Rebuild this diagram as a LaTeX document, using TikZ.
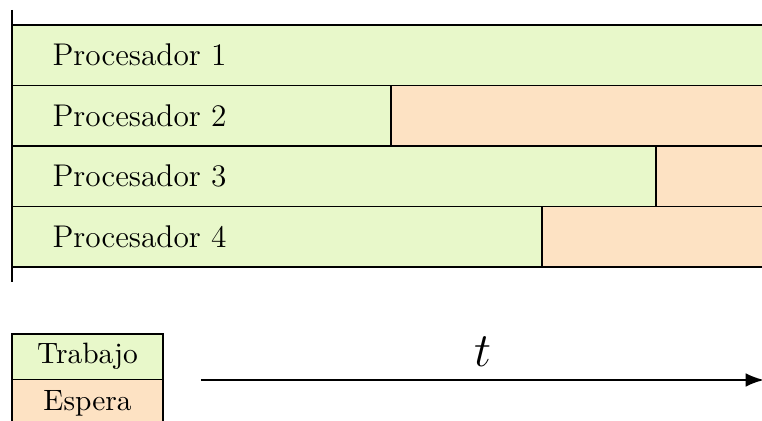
\documentclass[tikz,border=0pt]{standalone}
\usepackage{tikz}
\usetikzlibrary{arrows.meta,positioning}
\definecolor{trabajo}{RGB}{232,248,202}
\definecolor{espera}{RGB}{253,226,195}

\begin{document}
\begin{tikzpicture}[x=0.36pt, y=-0.36pt, >=Latex,
  fila/.style={draw, line width=0.5pt, inner sep=0pt, outer sep=0pt, anchor=north west, minimum height=21.8pt},
  leyenda/.style={draw, line width=0.5pt, inner sep=0pt, outer sep=0pt, minimum width=54.4pt, minimum height=16.4pt,
    font=\fontsize{10.6}{13}\selectfont}]
\useasboundingbox (0,0) rectangle (762,421);
\clip (0,0) rectangle (762,421);

% filas de procesadores
\foreach \i/\s in {1/900,2/391,3/656,4/542} {
  \node[fila, fill=trabajo, minimum width=320pt] (p\i) at (12,{25+(\i-1)*60.5}) {};
  \node[fila, fill=espera, minimum width={(900-\s)*0.36pt}] (e\i) at (\s,{25+(\i-1)*60.5}) {};
  \node[anchor=west, inner sep=0pt, font=\fontsize{11.3}{14}\selectfont] (n\i) at (52,{55+(\i-1)*60.5}) {Procesador \i};
}
\coordinate (ejearriba) at (12,10);
\coordinate (ejeabajo) at (12,282);
\draw[line width=0.5pt] (ejearriba) -- (ejeabajo);

% leyenda
\node[leyenda, fill=trabajo, anchor=north west] (trab) at (12,334) {Trabajo};
\node[leyenda, fill=espera, anchor=north, text depth=4.6pt, minimum height=20pt] (esp) at (trab.south) {Espera};

% eje de tiempo
\coordinate (t0) at (201,380);
\coordinate (t1) at (764,380);
\draw[->, line width=0.8pt] (t0) -- node[above=1pt, font=\LARGE]{$t$} (t1);
\end{tikzpicture}
\end{document}
